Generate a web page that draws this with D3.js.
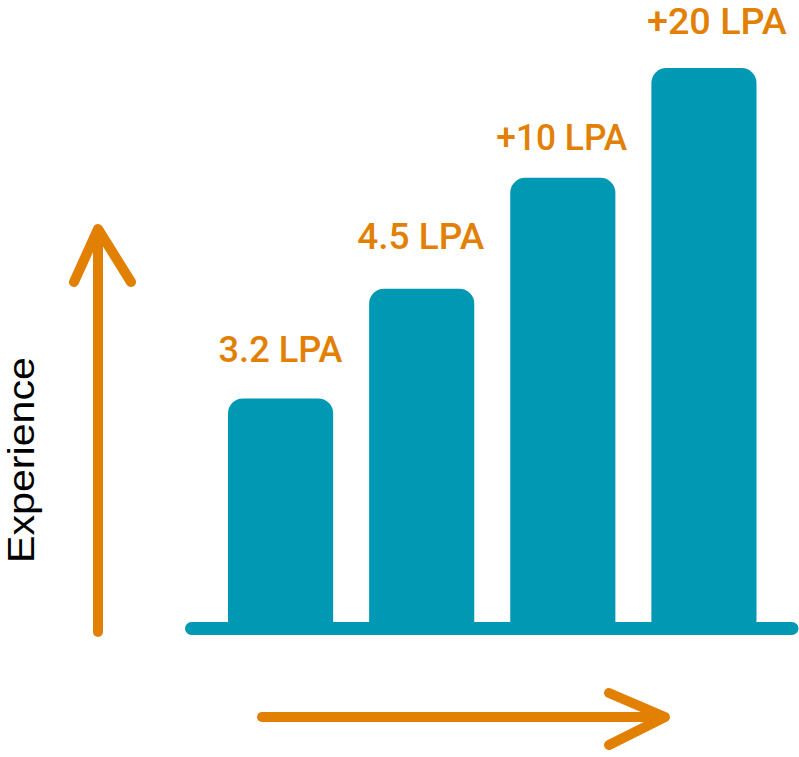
<!DOCTYPE html>
<html>
<head>
<meta charset="utf-8">
<script src="https://cdn.jsdelivr.net/npm/d3@7"></script>
<style>
  html, body { margin: 0; padding: 0; background: #ffffff; }
  svg { display: block; }
</style>
</head>
<body>
<svg id="chart" width="799" height="757"></svg>
<script>
// ---- data ----
const categories = ["Level 1", "Level 2", "Level 3", "Level 4"];
const levels = [2.05, 3.03, 4.02, 5.0];          // relative bar heights (experience level)
const salaryLabels = ["3.2 LPA", "4.5 LPA", "+10 LPA", "+20 LPA"];
const axisTitle = "Experience";

// ---- layout / style ----
const W = 799, H = 757;
const TEAL = "#0098B2", ORANGE = "#E28004";
const baseY = 628;
const labelStyle = { gap: [36, 40, 28, 34], dx: [0, -1, -1, 13], len: [124, 127, 131, 140] };

const svg = d3.select("#chart");

const x = d3.scaleBand()
  .domain(categories)
  .range([228, 756.5])
  .paddingInner(0.255)
  .paddingOuter(0);

const y = d3.scaleLinear()
  .domain([0, 5])
  .range([baseY, 68]);

const r = 15;
function topRoundedBar(x0, y0, w, yb) {
  const p = d3.path();
  p.moveTo(x0, yb);
  p.lineTo(x0, y0 + r);
  p.arcTo(x0, y0, x0 + r, y0, r);
  p.lineTo(x0 + w - r, y0);
  p.arcTo(x0 + w, y0, x0 + w, y0 + r, r);
  p.lineTo(x0 + w, yb);
  p.closePath();
  return p.toString();
}

// bars
svg.append("g")
  .selectAll("path")
  .data(levels)
  .join("path")
  .attr("d", (d, i) => topRoundedBar(x(categories[i]), y(d), x.bandwidth(), baseY + 2))
  .attr("fill", TEAL);

// baseline
svg.append("line")
  .attr("x1", 191.5).attr("x2", 792)
  .attr("y1", baseY + 0.5).attr("y2", baseY + 0.5)
  .attr("stroke", TEAL)
  .attr("stroke-width", 13)
  .attr("stroke-linecap", "round");

// value labels
svg.append("g")
  .selectAll("text")
  .data(levels)
  .join("text")
  .attr("x", (d, i) => x(categories[i]) + x.bandwidth() / 2 + labelStyle.dx[i])
  .attr("y", (d, i) => y(d) - labelStyle.gap[i])
  .attr("text-anchor", "middle")
  .attr("font-family", "Roboto, 'Liberation Sans', sans-serif")
  .attr("font-weight", 500)
  .attr("font-size", 36)
  .attr("fill", ORANGE)
  .attr("textLength", (d, i) => labelStyle.len[i])
  .attr("lengthAdjust", "spacingAndGlyphs")
  .text((d, i) => salaryLabels[i]);

// vertical arrow (experience axis)
const arrowG = svg.append("g")
  .attr("fill", "none")
  .attr("stroke", ORANGE)
  .attr("stroke-width", 10)
  .attr("stroke-linecap", "round")
  .attr("stroke-linejoin", "round");

arrowG.append("line")
  .attr("x1", 98).attr("y1", 632)
  .attr("x2", 98).attr("y2", 230);
arrowG.append("path")
  .attr("d", d3.line()([[74, 282], [98, 229], [131, 282]]));

// horizontal arrow
arrowG.append("line")
  .attr("x1", 262).attr("y1", 717)
  .attr("x2", 664).attr("y2", 717);
arrowG.append("path")
  .attr("d", d3.line()([[609, 693], [665, 717], [609, 745]]));

// axis title
svg.append("text")
  .attr("transform", "translate(34,460) rotate(-90)")
  .attr("text-anchor", "middle")
  .attr("font-family", "'Liberation Sans', Arial, sans-serif")
  .attr("font-weight", 400)
  .attr("font-size", 37)
  .attr("fill", "#000000")
  .attr("textLength", 206)
  .attr("lengthAdjust", "spacingAndGlyphs")
  .text(axisTitle);
</script>
</body>
</html>
